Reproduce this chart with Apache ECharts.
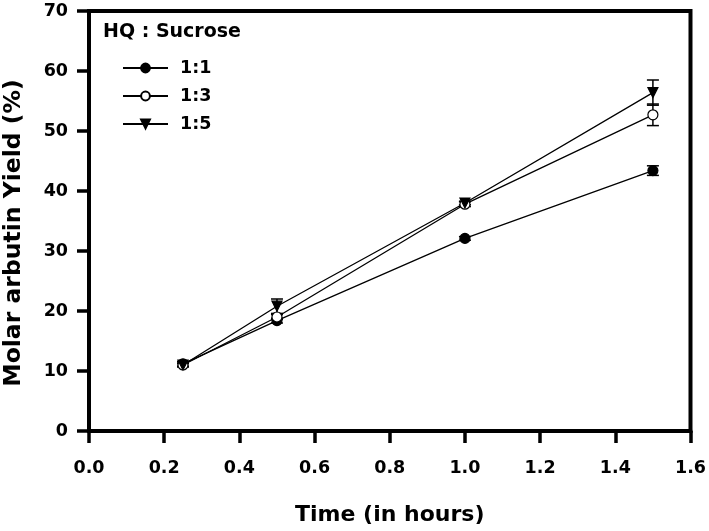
<!DOCTYPE html>
<html><head><meta charset="utf-8">
<script src="https://cdn.jsdelivr.net/npm/echarts@6/dist/echarts.min.js"></script>
<style>html,body{margin:0;padding:0;background:#fff}#c{width:709px;height:531px}</style>
</head><body><div id="c"></div>
<script>
const times = [0.25, 0.5, 1.0, 1.5];
const seriesNames = ['1:1', '1:3', '1:5'];
const yield11 = [11.2, 18.4, 32.1, 43.4];
const err11 = [0.4, 0.4, 0.3, 0.8];
const yield13 = [11.0, 19.0, 37.8, 52.7];
const err13 = [0.3, 0.4, 0.4, 1.8];
const yield15 = [11.0, 20.8, 38.0, 56.4];
const err15 = [0.3, 1.2, 0.3, 2.1];
const yTicks = [0, 10, 20, 30, 40, 50, 60, 70];
const xTicks = [0.0, 0.2, 0.4, 0.6, 0.8, 1.0, 1.2, 1.4, 1.6];

const font = '"DejaVu Sans", "Liberation Sans", Arial, sans-serif';
const chart = echarts.init(document.getElementById('c'));

function pairs(v){ return times.map((t,i)=>[t, v[i]]); }
function errData(v,e){ return times.map((t,i)=>[t, v[i]-e[i], v[i]+e[i]]); }
function errSeries(v,e){
  return {
    type:'custom', silent:true, z:1,
    data: errData(v,e),
    renderItem: function(params, api){
      const x = api.value(0);
      const lo = api.coord([x, api.value(1)]);
      const hi = api.coord([x, api.value(2)]);
      const w = 6;
      const st = {stroke:'#000', lineWidth:1.5};
      return {type:'group', children:[
        {type:'line', shape:{x1:lo[0],y1:lo[1],x2:hi[0],y2:hi[1]}, style:st},
        {type:'line', shape:{x1:lo[0]-w,y1:lo[1],x2:lo[0]+w,y2:lo[1]}, style:st},
        {type:'line', shape:{x1:hi[0]-w,y1:hi[1],x2:hi[0]+w,y2:hi[1]}, style:st}
      ]};
    }
  };
}
function lineSeries(name, v, symbol, fill){
  return {
    name, type:'line', data:pairs(v), symbol, symbolSize: 10,
    symbolRotate: symbol==='triangle'?180:0,
    lineStyle:{color:'#000', width:1.3},
    itemStyle:{color:fill, borderColor:'#000', borderWidth:1.2},
    z:3
  };
}

const option = {
  animation:false,
  backgroundColor:'#fff',
  grid:{left:89, right:17, top:11, bottom:98, show:true, borderColor:'#000', borderWidth:4, backgroundColor:'transparent'},
  title:{text:'HQ : Sucrose', left:98, top:18, textStyle:{fontFamily:font, fontWeight:'bold', fontSize:19, color:'#000'}},
  legend:{
    orient:'vertical', left:117, top:54, itemWidth:45, itemHeight:11, itemGap:10,
    data: seriesNames,
    textStyle:{fontFamily:font, fontWeight:'bold', fontSize:17.5, color:'#000', padding:[0,0,0,7]}
  },
  xAxis:{
    type:'value', min:0, max:1.6, interval:0.2,
    axisLine:{lineStyle:{color:'#000', width:4}},
    axisTick:{inside:false, length:12, lineStyle:{color:'#000', width:3.5}},
    axisLabel:{margin:28, color:'#000', fontFamily:font, fontWeight:'bold', fontSize:17.5,
      formatter: v => v.toFixed(1)},
    splitLine:{show:false},
    name:'Time (in hours)', nameLocation:'middle', nameGap:73,
    nameTextStyle:{fontFamily:font, fontWeight:'bold', fontSize:22, color:'#000'}
  },
  yAxis:{
    type:'value', min:0, max:70, interval:10,
    axisLine:{lineStyle:{color:'#000', width:4}},
    axisTick:{inside:false, length:12, lineStyle:{color:'#000', width:3.5}},
    axisLabel:{margin:21, color:'#000', fontFamily:font, fontWeight:'bold', fontSize:17.5},
    splitLine:{show:false}
  },
  graphic:[{
    type:'text', x:14, y:233, rotation:Math.PI/2,
    style:{text:'Molar arbutin Yield (%)', fontFamily:font, fontWeight:'bold', fontSize:23.5, fill:'#000',
      textAlign:'center', textVerticalAlign:'middle'}
  }],
  series:[
    errSeries(yield11, err11),
    errSeries(yield13, err13),
    errSeries(yield15, err15),
    lineSeries('1:1', yield11, 'circle', '#000'),
    lineSeries('1:3', yield13, 'circle', '#fff'),
    lineSeries('1:5', yield15, 'triangle', '#000')
  ]
};
chart.setOption(option);
</script></body></html>
